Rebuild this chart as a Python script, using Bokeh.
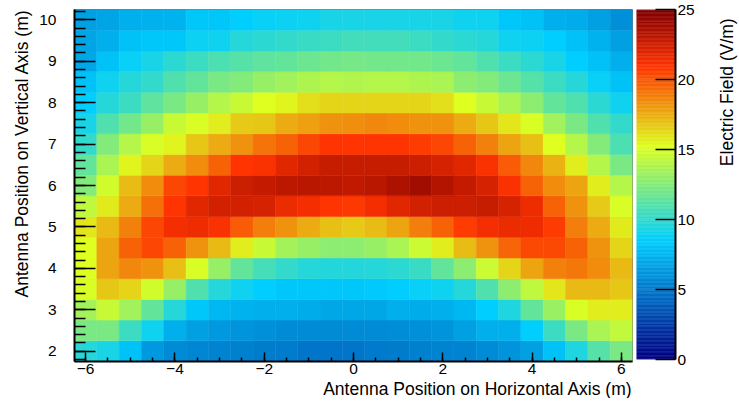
import numpy as np
from math import pi
from bokeh.plotting import figure
from bokeh.layouts import row
from bokeh.models import ColumnDataSource, FixedTicker, Range1d, Title
from bokeh.core.properties import value
from bokeh.transform import linear_cmap
from bokeh.embed import file_html
from bokeh.resources import INLINE

# ---------------- data ----------------
x_positions = [-6.0, -5.5, -5.0, -4.5, -4.0, -3.5, -3.0, -2.5, -2.0, -1.5, -1.0, -0.5, 0.0,
               0.5, 1.0, 1.5, 2.0, 2.5, 3.0, 3.5, 4.0, 4.5, 5.0, 5.5, 6.0]
y_positions = [2.0, 2.5, 3.0, 3.5, 4.0, 4.5, 5.0, 5.5, 6.0, 6.5, 7.0, 7.5, 8.0, 8.5, 9.0, 9.5, 10.0]

field_y2_0 = [9.7, 9.3, 8.0, 6.35, 5.75, 5.5, 5.4, 5.3, 5.1, 5.1, 4.9, 4.9, 4.9, 5.0, 5.1, 5.3, 5.4, 5.4, 5.75, 6.15, 6.6, 8.0, 9.5, 11.1, 12.2]
field_y2_5 = [12.2, 12.2, 10.3, 9.0, 7.2, 6.6, 6.35, 6.15, 5.95, 5.75, 5.75, 5.75, 5.75, 5.75, 5.85, 5.95, 6.15, 6.6, 7.2, 7.2, 8.45, 10.3, 12.2, 13.7, 14.4]
field_y3_0 = [13.5, 14.6, 13.4, 11.5, 9.7, 8.2, 7.6, 7.4, 7.2, 7.2, 7.1, 6.95, 6.9, 6.95, 7.2, 7.1, 7.2, 7.6, 8.45, 9.5, 11.5, 13.2, 15.0, 15.7, 15.7]
field_y3_5 = [15.0, 16.8, 16.4, 14.9, 13.1, 10.9, 9.7, 9.0, 8.45, 8.2, 8.15, 8.15, 8.15, 8.3, 8.45, 8.8, 9.0, 9.7, 10.9, 12.8, 14.3, 15.95, 17.2, 17.2, 16.8]
field_y4_0 = [15.2, 17.8, 18.6, 18.3, 17.0, 15.0, 13.1, 11.5, 10.6, 10.0, 9.7, 9.6, 9.6, 9.7, 9.9, 10.2, 11.5, 12.8, 14.7, 16.4, 17.8, 18.8, 19.1, 18.5, 17.2]
field_y4_5 = [15.2, 17.8, 19.7, 20.4, 19.7, 18.3, 17.2, 15.7, 14.6, 13.5, 13.1, 12.8, 12.8, 13.1, 13.7, 14.7, 15.7, 17.1, 18.3, 19.6, 20.3, 20.3, 19.7, 18.3, 16.4]
field_y5_0 = [15.95, 17.2, 18.8, 20.4, 21.3, 21.5, 21.1, 19.9, 18.9, 18.3, 17.6, 17.0, 16.7, 17.1, 17.8, 18.9, 19.7, 20.7, 21.3, 21.6, 21.5, 20.7, 18.9, 17.6, 15.8]
field_y5_5 = [14.3, 15.8, 17.6, 19.3, 20.9, 21.9, 22.4, 22.4, 22.3, 21.6, 21.3, 20.9, 20.8, 21.3, 21.9, 22.4, 22.6, 22.6, 22.8, 22.3, 21.5, 19.7, 18.3, 16.7, 15.0]
field_y6_0 = [12.5, 14.9, 17.1, 18.5, 20.4, 20.9, 21.9, 22.6, 22.9, 23.1, 23.2, 23.1, 23.0, 23.2, 23.6, 24.0, 23.4, 22.9, 22.3, 21.1, 19.7, 18.5, 17.8, 15.7, 14.0]
field_y6_5 = [11.5, 13.7, 15.5, 16.4, 17.6, 18.5, 19.7, 20.9, 21.1, 21.9, 22.4, 22.8, 22.8, 22.8, 22.8, 22.6, 22.3, 21.9, 21.1, 19.9, 18.6, 17.4, 15.7, 14.0, 12.2]
field_y7_0 = [10.0, 12.5, 14.0, 15.0, 15.5, 16.8, 17.6, 18.3, 19.2, 19.7, 20.4, 20.9, 20.9, 20.9, 20.9, 20.7, 20.4, 19.7, 18.8, 17.8, 17.0, 15.2, 14.0, 12.5, 10.8]
field_y7_5 = [9.3, 10.9, 12.0, 13.1, 14.6, 15.0, 15.7, 16.7, 16.8, 17.6, 17.9, 18.3, 18.4, 18.6, 18.5, 18.3, 18.3, 17.6, 16.8, 15.95, 15.0, 13.4, 12.2, 10.9, 10.0]
field_y8_0 = [8.45, 9.7, 10.3, 11.4, 12.2, 13.1, 14.0, 14.6, 15.2, 15.5, 16.1, 16.4, 16.4, 16.4, 16.4, 16.4, 16.1, 15.2, 14.6, 13.7, 12.8, 11.5, 10.9, 9.9, 9.0]
field_y8_5 = [8.0, 9.0, 9.7, 10.0, 10.9, 11.5, 12.2, 12.5, 13.1, 13.4, 13.8, 14.0, 13.9, 14.0, 14.0, 13.8, 13.7, 12.8, 12.5, 11.8, 11.1, 10.3, 9.7, 8.8, 8.0]
field_y9_0 = [6.95, 8.0, 8.8, 9.3, 9.9, 10.3, 10.8, 11.1, 11.4, 11.5, 11.8, 12.0, 12.1, 12.0, 12.0, 12.0, 11.8, 11.5, 10.9, 10.3, 9.9, 9.3, 8.45, 8.0, 7.2]
field_y9_5 = [6.8, 7.2, 8.0, 8.15, 8.2, 8.9, 9.0, 9.7, 9.9, 10.0, 10.2, 10.3, 10.5, 10.5, 10.5, 10.3, 10.0, 9.9, 9.7, 9.0, 8.9, 8.45, 8.0, 7.4, 6.6]
field_y10_0 = [6.6, 6.8, 7.2, 7.3, 7.4, 8.15, 8.2, 8.45, 8.8, 8.9, 9.0, 9.3, 9.3, 9.3, 9.3, 9.3, 9.3, 9.0, 9.0, 8.2, 8.0, 7.2, 7.1, 6.6, 5.95]

field_rows = [field_y2_0, field_y2_5, field_y3_0, field_y3_5, field_y4_0, field_y4_5,
              field_y5_0, field_y5_5, field_y6_0, field_y6_5, field_y7_0, field_y7_5,
              field_y8_0, field_y8_5, field_y9_0, field_y9_5, field_y10_0]

x_tick_values = [-6, -4, -2, 0, 2, 4, 6]
y_tick_values = [2, 3, 4, 5, 6, 7, 8, 9, 10]
cbar_tick_values = [0, 5, 10, 15, 20, 25]
field_low, field_high = 0, 25

x_title = "Antenna Position on Horizontal Axis (m)"
y_title = "Antenna Position on Vertical Axis (m)"
z_title = "Electric Field (V/m)"

# ---------------- palette (ROOT-style gradient) ----------------
stops = [0.00, 0.34, 0.61, 0.84, 1.00]
reds = [0.00, 0.00, 0.87, 1.00, 0.51]
greens = [0.00, 0.81, 1.00, 0.20, 0.00]
blues = [0.51, 1.00, 0.12, 0.00, 0.00]
tt = np.linspace(0, 1, 255)
palette = ["#%02x%02x%02x" % (int(round(255 * np.interp(t, stops, reds))),
                              int(round(255 * np.interp(t, stops, greens))),
                              int(round(255 * np.interp(t, stops, blues)))) for t in tt]

FONT = "Liberation Sans"
LABEL_SIZE = "15.5px"
TITLE_SIZE = "17.5px"

# ---------------- source ----------------
xs, ys, vs = [], [], []
for yv, vals in zip(y_positions, field_rows):
    for xv, v in zip(x_positions, vals):
        xs.append(xv)
        ys.append(yv)
        vs.append(v)
src = ColumnDataSource(dict(x=xs, y=ys, v=vs))

# ---------------- main heat map ----------------
p = figure(frame_width=558, frame_height=352,
           x_range=Range1d(-6.25, 6.25), y_range=Range1d(1.75, 10.25),
           output_backend="svg", toolbar_location=None,
           min_border_left=74, min_border_right=1, min_border_top=9, min_border_bottom=30)
cmap = linear_cmap("v", palette, field_low, field_high)
p.rect(x="x", y="y", width=0.5, height=0.5, source=src, fill_color=cmap, line_color=cmap, line_width=0.5)

p.grid.visible = False
p.outline_line_color = "#7a7a7a"
p.outline_line_width = 1
p.background_fill_color = "white"
p.border_fill_color = "white"

x_minor = [x_positions[0] + 0.5 * i for i in range(len(x_positions))]
y_minor = [1.8 + 0.2 * i for i in range(43)]
p.xaxis.ticker = FixedTicker(ticks=x_tick_values, minor_ticks=x_minor)
p.yaxis.ticker = FixedTicker(ticks=y_tick_values, minor_ticks=y_minor)

for ax, (mi, mn) in ((p.xaxis, (9, 4)), (p.yaxis, (21, 11))):
    ax.major_tick_in = mi
    ax.major_tick_out = 0
    ax.minor_tick_in = mn
    ax.minor_tick_out = 0
    ax.axis_line_color = "black"
    ax.axis_line_width = 2
    ax.major_tick_line_color = "black"
    ax.major_tick_line_width = 1.5
    ax.minor_tick_line_color = "black"
    ax.minor_tick_line_width = 1.5
    ax.major_label_text_font = FONT
    ax.major_label_text_font_size = LABEL_SIZE
    ax.major_label_text_color = "black"
p.xaxis.major_label_standoff = 2
p.yaxis.major_label_standoff = 18

p.add_layout(Title(text=x_title, align="right", text_font=FONT, text_font_size=TITLE_SIZE,
                   text_font_style="normal", text_color="black", standoff=0), "below")
p.add_layout(Title(text=y_title, align="right", text_font=FONT, text_font_size=TITLE_SIZE,
                   text_font_style="normal", text_color="black", standoff=10), "left")

# ---------------- colour scale ----------------
p2 = figure(frame_width=39, frame_height=350, x_range=Range1d(0, 1), y_range=Range1d(field_low, field_high),
            output_backend="svg", toolbar_location=None, x_axis_location=None, y_axis_location="right",
            min_border_left=3, min_border_right=34, min_border_top=9, min_border_bottom=10)
levels = np.linspace(field_low, field_high, len(palette) + 1)
p2.quad(left=0, right=1, bottom=levels[:-1], top=levels[1:], fill_color=palette, line_color=palette,
        line_width=0.5)
p2.grid.visible = False
p2.outline_line_color = None
p2.background_fill_color = "white"
p2.border_fill_color = "white"
ax = p2.yaxis[0]
ax.ticker = FixedTicker(ticks=cbar_tick_values, minor_ticks=[])
ax.major_tick_in = 20
ax.major_tick_out = 0
ax.minor_tick_in = 0
ax.minor_tick_out = 0
ax.axis_line_color = "black"
ax.axis_line_width = 2
ax.major_tick_line_color = "black"
ax.major_tick_line_width = 1.5
ax.major_label_text_font = FONT
ax.major_label_text_font_size = LABEL_SIZE
ax.major_label_text_color = "black"
ax.major_label_standoff = 2

# ---------------- colour-scale title ----------------
p3 = figure(width=29, height=400, x_range=Range1d(0, 1), y_range=Range1d(0, 400),
            output_backend="svg", toolbar_location=None, x_axis_location=None, y_axis_location=None,
            min_border_left=0, min_border_right=0, min_border_top=0, min_border_bottom=0)
p3.grid.visible = False
p3.outline_line_color = None
p3.background_fill_color = "white"
p3.border_fill_color = "white"
p3.text(x=[0.6], y=[390], text=[z_title], angle=pi / 2, text_align="right", text_baseline="middle",
        text_font=value(FONT), text_font_size=value(TITLE_SIZE), text_color="black")

layout = row(p, p2, p3)
open("out.html", "w").write(file_html(layout, INLINE))
